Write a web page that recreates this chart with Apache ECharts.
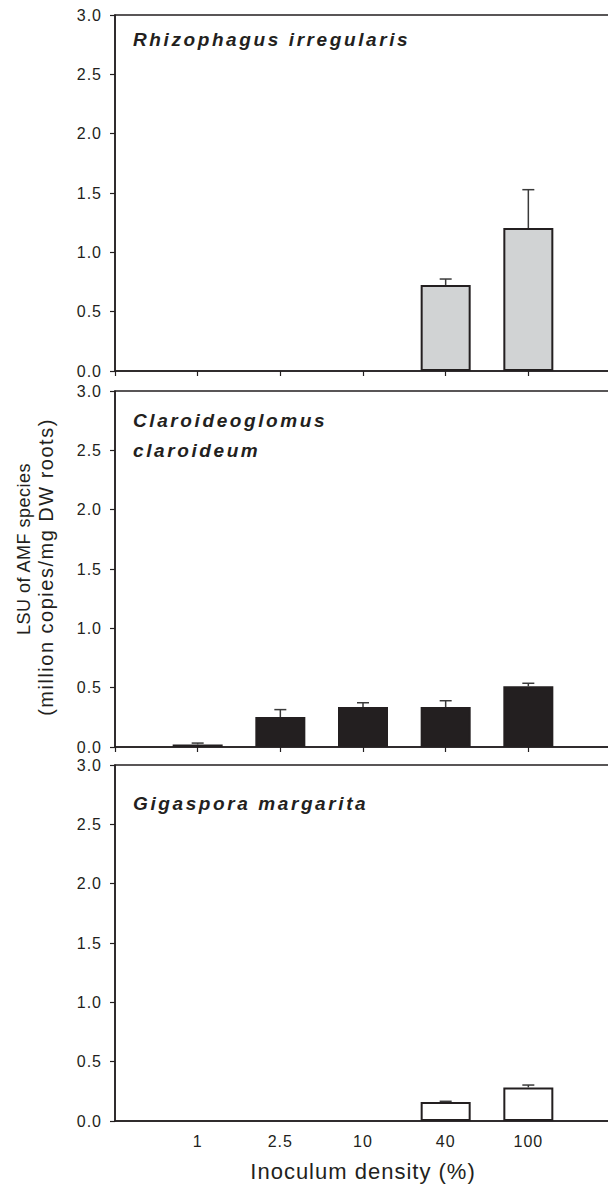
<!DOCTYPE html>
<html>
<head>
<meta charset="utf-8">
<script src="https://cdn.jsdelivr.net/npm/echarts@6/dist/echarts.min.js"></script>
<style>
  html, body { margin: 0; padding: 0; background: #fff; }
  #myChart { width: 608px; height: 1184px; }
</style>
</head>
<body>
<div id="myChart"></div>
<script>
// Datas
const categories = ['1', '2.5', '10', '40', '100']
const yTicks = [0, 0.5, 1.0, 1.5, 2.0, 2.5, 3.0]

const rhizoMean = [null, null, null, 0.725, 1.205]
const rhizoSE = [null, null, null, 0.05, 0.323]
const claroMean = [0.022, 0.253, 0.337, 0.337, 0.511]
const claroSE = [0.011, 0.062, 0.036, 0.053, 0.026]
const gigaMean = [null, null, null, 0.16, 0.283]
const gigaSE = [null, null, null, 0.006, 0.02]

const font = '"Liberation Sans", Arial, sans-serif'
const ink = '#231f20'
const yName1 = 'LSU of AMF species'
const yName2 = '(million copies/mg DW roots)'

// empty slot on both sides of the categories
const axisData = [''].concat(categories, [''])
const pad = arr => [null].concat(arr, [null])

const panels = [
  { top: 15, titleY: 24.5, title: 'Rhizophagus irregularis', mean: rhizoMean, se: rhizoSE, fill: '#d1d3d4', ticks: true },
  { top: 391, titleY: 405.5, title: 'Claroideoglomus\nclaroideum', mean: claroMean, se: claroSE, fill: ink, ticks: true },
  { top: 765, titleY: 788.5, title: 'Gigaspora margarita', mean: gigaMean, se: gigaSE, fill: '#ffffff', ticks: false },
]
const titleLines = ['Rhizophagus irregularis', 'Claroideoglomus', 'claroideum', 'Gigaspora margarita']

const chart = echarts.init(document.getElementById('myChart'), null, { renderer: 'svg' })

const grid = []
const xAxis = []
const yAxis = []
const series = []
const graphic = []

panels.forEach((p, i) => {
  grid.push({
    left: 115,
    width: 496,
    top: p.top,
    height: 356,
    outerBoundsMode: 'none',
    containLabel: false,
    show: true,
    borderColor: ink,
    borderWidth: 1.5,
    backgroundColor: 'transparent',
  })
  xAxis.push({
    type: 'category',
    gridIndex: i,
    data: axisData,
    boundaryGap: false,
    axisLine: { lineStyle: { color: ink, width: 1.5 } },
    axisTick: { show: p.ticks, interval: 0, length: 5, lineStyle: { color: ink, width: 1.2 } },
    axisLabel: { show: i === 2, interval: 0, color: ink, fontSize: 16, fontFamily: font, margin: 12 },
    splitLine: { show: false },
    name: i === 2 ? 'Inoculum density (%)' : '',
    nameLocation: 'middle',
    nameGap: 39,
    nameTextStyle: { color: ink, fontSize: 22, fontFamily: font },
  })
  yAxis.push({
    type: 'value',
    gridIndex: i,
    min: 0,
    max: 3,
    interval: 0.5,
    axisLine: { show: true, lineStyle: { color: ink, width: 1.5 } },
    axisTick: { show: true, length: 5, lineStyle: { color: ink, width: 1.2 } },
    axisLabel: {
      color: ink, fontSize: 16, fontFamily: font, margin: 13,
      formatter: v => (yTicks.indexOf(v) >= 0 ? v.toFixed(1) : ''),
    },
    splitLine: { show: false },
  })
  graphic.push({
    type: 'text',
    x: 133,
    y: p.titleY,
    style: {
      text: p.title,
      fill: ink,
      font: 'italic bold 19px ' + font,
      lineHeight: 30,
      verticalAlign: 'top',
    },
  })
  series.push({
    type: 'bar',
    xAxisIndex: i,
    yAxisIndex: i,
    barWidth: 50,
    data: pad(p.mean),
    itemStyle: { color: p.fill, borderColor: ink, borderWidth: 2 },
    animation: false,
    z: 2,
  })
  const errData = []
  p.mean.forEach((m, k) => {
    if (m !== null && p.se[k] !== null) errData.push([k + 1, m, m + p.se[k]])
  })
  series.push({
    type: 'custom',
    xAxisIndex: i,
    yAxisIndex: i,
    data: errData,
    animation: false,
    z: 3,
    renderItem: (params, api) => {
      const base = api.coord([api.value(0), api.value(1)])
      const top = api.coord([api.value(0), api.value(2)])
      const style = { stroke: '#3a3a3a', lineWidth: 1.5 }
      return {
        type: 'group',
        children: [
          { type: 'line', shape: { x1: base[0], y1: base[1], x2: top[0], y2: top[1] }, style },
          { type: 'line', shape: { x1: top[0] - 6, y1: top[1], x2: top[0] + 6, y2: top[1] }, style },
        ],
      }
    },
  })
})

// y axis name, two lines
graphic.push({
  type: 'text',
  x: 24,
  y: 549,
  rotation: Math.PI / 2,
  style: { text: yName1, align: 'center', verticalAlign: 'middle', fill: ink, font: '18px ' + font },
})
graphic.push({
  type: 'text',
  x: 46,
  y: 567,
  rotation: Math.PI / 2,
  style: { text: yName2, align: 'center', verticalAlign: 'middle', fill: ink, font: '20px ' + font },
})

chart.setOption({
  animation: false,
  grid,
  xAxis,
  yAxis,
  series,
  graphic,
})

// letter spacing like the original export
function spaceText() {
  document.querySelectorAll('#myChart svg text').forEach(t => {
    const s = t.textContent.trim()
    let ls = 1
    if (titleLines.indexOf(s) >= 0) ls = 2.6
    else if (s === yName2) ls = 1.5
    else if (s === yName1) ls = 0.5
    t.style.letterSpacing = ls + 'px'
  })
}
chart.on('finished', spaceText)
spaceText()
setTimeout(spaceText, 50)
</script>
</body>
</html>
